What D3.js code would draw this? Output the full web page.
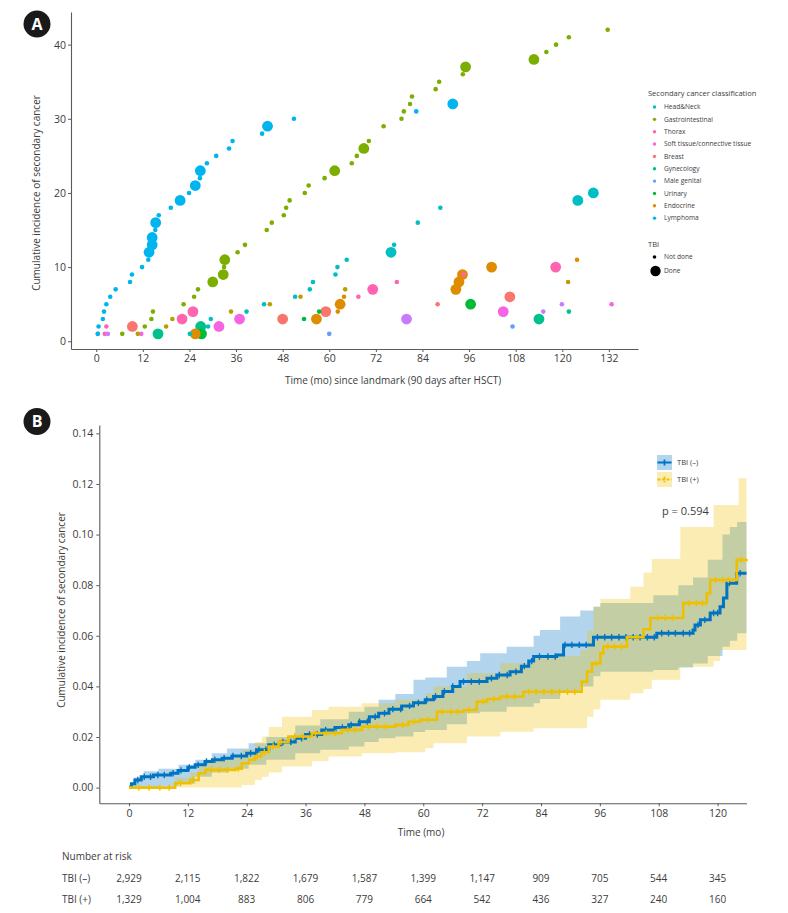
<!DOCTYPE html>
<html>
<head>
<meta charset="utf-8">
<script src="https://cdn.jsdelivr.net/npm/d3@7"></script>
<style>
  body { margin: 0; background: #ffffff; }
  svg { display: block; font-family: "Open Sans", "Noto Sans", sans-serif; }
</style>
</head>
<body>
<div id="chart"></div>
<script>
// ---------- Panel A data: [month, cumulative count, TBI done (1) / not done (0)] ----------
const categories = ["Head&Neck", "Gastrointestinal", "Thorax", "Soft tissue/connective tissue", "Breast",
    "Gynecology", "Male genital", "Urinary", "Endocrine", "Lymphoma", "Unlabelled A", "Unlabelled B"];
const categoryColors = ["#00BFC4", "#7CAE00", "#FF64B0", "#F564E3", "#F8766D",
    "#00C08B", "#619CFF", "#00BA38", "#DE8C00", "#00B4F0", "#B79F00", "#C77CFF"];
const legendCategories = categories.slice(0, 10);

const headNeck = [[24.1,1,0],[28.8,2,0],[29.5,3,0],[38.7,4,0],[43.2,5,0],[51.2,6,0],[55.0,7,0],[55.8,8,0],
    [61.6,9,0],[62.1,10,0],[64.5,11,0],[75.9,12,1],[76.7,13,0],[82.8,16,0],[88.6,18,0],[124.0,19,1],[128.0,20,1]];
const gastro = [[6.7,1,0],[12.5,2,0],[14.2,3,0],[14.6,4,0],[22.5,5,0],[25.2,6,0],[26.2,7,0],[30.0,8,1],[32.7,9,1],
    [32.9,10,0],[33.1,11,1],[36.4,12,0],[38.3,13,0],[43.9,15,0],[45.2,16,0],[48.3,17,0],[48.9,18,0],[49.8,19,0],
    [53.7,20,0],[54.7,21,0],[58.8,22,0],[61.4,23,1],[65.8,24,0],[67.1,25,0],[68.9,26,1],[70.2,27,0],[74.0,29,0],
    [78.6,30,0],[79.2,31,0],[80.8,32,0],[81.3,33,0],[87.4,34,0],[88.3,35,0],[94.4,36,0],[95.1,37,1],[112.7,38,1],
    [115.9,39,0],[118.4,40,0],[121.7,41,0],[131.7,42,0]];
const thorax = [[2.2,1,0],[2.6,2,0],[22.1,3,1],[24.9,4,1],[67.5,6,0],[71.2,7,1],[77.4,8,0],[94.6,9,0],[118.3,10,1]];
const softTissue = [[11.6,1,0],[31.6,2,1],[36.9,3,1],[104.8,4,1],[132.7,5,0]];
const breast = [[0.4,1,0],[9.3,2,1],[48.0,3,1],[59.1,4,1],[87.9,5,0],[106.5,6,1]];
const gynecology = [[15.9,1,1],[26.9,2,1],[114.0,3,1],[121.7,4,0]];
const maleGenital = [[60.0,1,0],[107.2,2,0]];
const urinary = [[27.1,1,1],[53.5,3,0],[57.4,4,0],[96.4,5,1]];
const endocrine = [[25.5,1,1],[56.7,3,1],[62.2,4,0],[62.8,5,1],[63.8,6,0],[92.6,7,1],[93.4,8,1],[94.3,9,1],
    [101.8,10,1],[123.8,11,0]];
const lymphoma = [[0.4,1,0],[0.6,2,0],[1.7,3,0],[2.0,4,0],[2.6,5,0],[3.6,6,0],[5.0,7,0],[8.7,8,0],[9.2,9,0],
    [11.8,10,0],[13.4,11,0],[13.6,12,1],[14.4,13,1],[14.4,14,1],[15.2,15,0],[15.3,16,1],[16.1,17,0],[19.2,18,0],
    [21.6,19,1],[23.9,20,0],[25.5,21,1],[26.7,22,0],[26.8,23,1],[28.5,24,0],[30.9,25,0],[34.2,26,0],[35.1,27,0],
    [42.7,28,0],[44.1,29,1],[50.9,30,0],[82.4,31,0],[91.8,32,1]];
const unlabelledA = [[10.7,1,0],[18.0,2,0],[19.6,3,0],[34.7,4,0],[44.7,5,0],[52.6,6,0],[64.1,7,0],[121.5,8,0]];
const unlabelledB = [[3.0,1,0],[79.9,3,1],[115.1,4,0],[119.9,5,0]];
const categoryEvents = [headNeck, gastro, thorax, softTissue, breast, gynecology, maleGenital, urinary,
    endocrine, lymphoma, unlabelledA, unlabelledB];
const xTicksA = [0, 12, 24, 36, 48, 60, 72, 84, 96, 108, 120, 132];
const yTicksA = [0, 10, 20, 30, 40];

// ---------- Panel B data ----------
const groups = ["TBI (–)", "TBI (+)"];
const groupColors = ["#0073C2", "#EFC000"];
// cumulative incidence steps [month, value]
const cifNeg = [[0,0],[0.5,0.0015],[1.2,0.003],[2.5,0.0043],[5,0.005],[8.5,0.0057],[10,0.0068],[12,0.008],
    [13.5,0.009],[15.5,0.0103],[17,0.011],[19,0.0116],[21,0.0125],[24,0.0136],[26,0.015],[28.5,0.0169],[31,0.018],
    [33.9,0.0195],[36,0.021],[39.3,0.0228],[42,0.0238],[44.8,0.0248],[47,0.026],[49,0.028],[50.9,0.0294],[53,0.031],
    [55.6,0.0323],[58,0.0335],[60.4,0.0347],[62.1,0.036],[64,0.038],[66,0.04],[67.5,0.0419],[73,0.0432],[75,0.0445],
    [77.7,0.0458],[80,0.048],[81.5,0.05],[82.5,0.0518],[87.2,0.0524],[88.6,0.0564],[94.7,0.0594],[107.6,0.061],
    [115,0.0623],[115.4,0.0643],[116.5,0.0663],[118.5,0.069],[120.5,0.0715],[121.2,0.0749],[121.9,0.0808],
    [123.9,0.0847],[125.9,0.0847]];
const cifPos = [[0,0],[9.4,0.0017],[12.5,0.003],[14.2,0.0057],[15.6,0.007],[21.7,0.0075],[23,0.0096],[24.5,0.011],
    [25.7,0.0123],[27,0.014],[28.5,0.0162],[30.5,0.018],[32.5,0.0202],[37.3,0.0215],[43.4,0.0228],[47.5,0.0241],
    [54.3,0.0248],[57,0.026],[59.4,0.0268],[62.8,0.03],[68.2,0.0307],[70.9,0.034],[73,0.035],[75.7,0.036],
    [80.4,0.0379],[92.3,0.0419],[93.4,0.0458],[94.4,0.0491],[96.1,0.0531],[96.7,0.0557],[101.5,0.0594],
    [104.9,0.0626],[106.3,0.067],[113,0.0729],[117.8,0.0768],[118.5,0.0821],[123.9,0.09],[125.9,0.0903]];
// confidence bands [month, lower, upper]
const bandNeg = [[0,0,0.001],[1,0,0.004],[3,0,0.0065],[6,0.0005,0.0075],[10.1,0.0015,0.009],[13.5,0.0043,0.011],
    [16.9,0.006,0.0136],[20,0.0075,0.0155],[24.4,0.009,0.0175],[28,0.011,0.02],[33.9,0.0136,0.0245],[39,0.015,0.027],
    [44.8,0.0162,0.03],[48,0.018,0.032],[50.9,0.0195,0.0347],[54.3,0.0202,0.037],[58,0.022,0.0426],
    [60.4,0.0228,0.0435],[64.8,0.025,0.0478],[68.9,0.0294,0.05],[71.6,0.03,0.0531],[77,0.032,0.0557],
    [82.5,0.0333,0.06],[83.8,0.035,0.0623],[87.9,0.038,0.0676],[92,0.04,0.07],[94.7,0.044,0.0715],
    [96.1,0.0458,0.073],[106.9,0.0465,0.076],[112,0.0475,0.08],[115,0.049,0.083],[118,0.052,0.09],
    [121,0.0557,0.1],[122.5,0.058,0.103],[124,0.061,0.105],[125.9,0.061,0.105]];
const bandPos = [[0,0,0.0005],[9.4,0,0.004],[12.5,0,0.006],[14.2,0,0.0095],[15.6,0,0.011],[21.7,0,0.012],
    [23,0.001,0.015],[25.7,0.003,0.018],[27.1,0.0043,0.0202],[28.5,0.006,0.024],[31.2,0.0083,0.028],
    [37.3,0.0105,0.0307],[40.7,0.0123,0.032],[47.5,0.0136,0.0333],[54.3,0.014,0.0347],[60.4,0.0156,0.0373],
    [62.1,0.0175,0.04],[68.9,0.0202,0.0452],[75.7,0.0221,0.0491],[82.5,0.0235,0.052],[92,0.0235,0.0544],
    [93.4,0.028,0.062],[94.7,0.031,0.0715],[96.1,0.0347,0.0745],[102.2,0.0373,0.0794],[104.9,0.039,0.085],
    [106.6,0.0426,0.0903],[112.4,0.0478,0.103],[119.2,0.05,0.1117],[120.5,0.0544,0.1117],[124.3,0.0544,0.1223],
    [125.9,0.0544,0.1223]];
// censoring times (months)
const censorNeg = [1.8,3.1,4.4,5.9,7.2,9.0,10.6,12.3,14.1,15.8,17.5,19.4,21.2,22.9,24.8,26.5,27.9,29.6,31.4,33.0,
    35.2,36.8,38.4,40.1,41.9,43.5,45.3,47.0,48.6,50.2,52.1,53.8,55.4,57.2,59.0,60.7,62.5,64.3,66.0,68.2,69.8,71.4,
    73.9,75.5,77.1,78.9,80.6,82.1,83.7,85.4,86.9,88.9,90.3,91.8,93.2,95.5,97.0,98.4,99.9,101.3,102.8,104.2,105.7,
    107.1,108.6,110.0,111.4,113.0,114.3,116.0,117.4,119.2,120.0,122.4,124.6];
const censorPos = [2.0,4.1,6.3,8.2,10.5,13.0,16.8,18.4,20.1,22.3,26.1,27.6,29.4,31.0,33.8,35.5,38.0,40.2,42.0,44.6,
    46.1,48.8,50.5,52.3,55.8,58.1,60.9,63.9,65.6,67.0,69.3,72.2,74.4,77.0,78.6,81.5,83.0,84.6,86.2,87.8,89.4,90.9,
    95.2,97.6,99.0,100.4,103.5,107.8,109.3,110.8,114.2,115.7,116.9,119.6,121.0,122.2,124.8];
const xTicksB = [0, 12, 24, 36, 48, 60, 72, 84, 96, 108, 120];
const yTicksB = [0, 0.02, 0.04, 0.06, 0.08, 0.10, 0.12, 0.14];
const riskTimes = [0, 12, 24, 36, 48, 60, 72, 84, 96, 108, 120];
const riskNeg = [2929, 2115, 1822, 1679, 1587, 1399, 1147, 909, 705, 544, 345];
const riskPos = [1329, 1004, 883, 806, 779, 664, 542, 436, 327, 240, 160];
const pValueText = "p = 0.594";

const axisGrey = "#5a5a5a";
const textGrey = "#3c3c3c";

// Function to draw the round panel badge
function drawBadge(svg, cx, cy, letter) {
    svg.append("circle").attr("cx", cx).attr("cy", cy).attr("r", 13.5).attr("fill", "#1a1a1a");
    svg.append("text")
        .attr("x", cx).attr("y", cy + 5.5)
        .attr("text-anchor", "middle")
        .style("font-size", "16px").style("font-weight", "bold")
        .style("fill", "#ffffff")
        .text(letter);
}

function styleAxis(g, fontSize) {
    g.select(".domain").attr("stroke", axisGrey).attr("stroke-width", 1.1);
    g.selectAll(".tick line").attr("stroke", axisGrey).attr("stroke-width", 1);
    g.selectAll(".tick text").style("fill", textGrey).style("font-size", fontSize).style("font-family", "Open Sans");
}

// Function to render panel A (bubble incidence plot)
function renderPanelA(svg) {
    const x = d3.scaleLinear().domain([-6.5, 139.5]).range([71, 638]);
    const y = d3.scaleLinear().domain([-1.04, 44.4]).range([349, 12]);

    drawBadge(svg, 37, 24, "A");

    svg.append("g")
        .attr("transform", "translate(71,0)")
        .call(d3.axisLeft(y).tickValues(yTicksA).tickSize(3).tickSizeOuter(0).tickPadding(2))
        .call(g => styleAxis(g, "10.5px"));

    svg.append("g")
        .attr("transform", "translate(0,349)")
        .call(d3.axisBottom(x).tickValues(xTicksA).tickSize(3).tickSizeOuter(0).tickPadding(3))
        .call(g => styleAxis(g, "10.5px"));

    svg.append("text")
        .attr("transform", "translate(40,193) rotate(-90)")
        .attr("text-anchor", "middle")
        .style("font-size", "10px").style("fill", textGrey)
        .text("Cumulative incidence of secondary cancer");

    svg.append("text")
        .attr("x", 285).attr("y", 384)
        .style("font-size", "10px").style("fill", textGrey)
        .text("Time (mo) since landmark (90 days after HSCT)");

    // points: big (TBI done) first, small on top
    const points = [];
    categoryEvents.forEach((events, i) => {
        events.forEach(e => points.push({ cat: i, month: e[0], count: e[1], done: e[2] }));
    });
    points.sort((a, b) => b.done - a.done);

    svg.append("g").selectAll("circle")
        .data(points)
        .enter()
        .append("circle")
        .attr("cx", d => x(d.month))
        .attr("cy", d => y(d.count))
        .attr("r", d => d.done ? 5.4 : 2.3)
        .attr("fill", d => categoryColors[d.cat]);

    // legend
    const lg = svg.append("g");
    lg.append("text").attr("x", 648).attr("y", 96)
        .style("font-size", "7.5px").style("fill", textGrey)
        .text("Secondary cancer classification");
    legendCategories.forEach((name, i) => {
        const ly = 107 + i * 12.35;
        lg.append("circle").attr("cx", 654.5).attr("cy", ly).attr("r", 1.7).attr("fill", categoryColors[i]);
        lg.append("text").attr("x", 664).attr("y", ly + 2.3)
            .style("font-size", "6.6px").style("fill", textGrey)
            .text(name);
    });
    lg.append("text").attr("x", 648).attr("y", 247)
        .style("font-size", "7.5px").style("fill", textGrey)
        .text("TBI");
    lg.append("circle").attr("cx", 654.5).attr("cy", 257).attr("r", 1.8).attr("fill", "#000");
    lg.append("text").attr("x", 664).attr("y", 259.3)
        .style("font-size", "6.6px").style("fill", textGrey).text("Not done");
    lg.append("circle").attr("cx", 655.5).attr("cy", 271).attr("r", 5.2).attr("fill", "#000");
    lg.append("text").attr("x", 664).attr("y", 273.3)
        .style("font-size", "6.6px").style("fill", textGrey).text("Done");
}

// Function to render panel B (cumulative incidence curves)
function renderPanelB(svg) {
    const x = d3.scaleLinear().domain([-6.05, 125.9]).range([99.3, 746.5]);
    const y = d3.scaleLinear().domain([-0.0062, 0.1433]).range([803.3, 425]);

    drawBadge(svg, 37, 421.5, "B");

    const bands = [bandNeg, bandPos];
    const curves = [cifNeg, cifPos];
    const censors = [censorNeg, censorPos];

    const area = d3.area()
        .x(d => x(d[0]))
        .y0(d => y(d[1]))
        .y1(d => y(d[2]))
        .curve(d3.curveStepAfter);

    bands.forEach((band, i) => {
        svg.append("path")
            .datum(band)
            .attr("fill", groupColors[i])
            .attr("fill-opacity", 0.3)
            .attr("d", area);
    });

    const line = d3.line()
        .x(d => x(d[0]))
        .y(d => y(d[1]))
        .curve(d3.curveStepAfter);

    const bisect = d3.bisector(d => d[0]).right;

    curves.forEach((curve, i) => {
        svg.append("path")
            .datum(curve)
            .attr("fill", "none")
            .attr("stroke", groupColors[i])
            .attr("stroke-width", i === 0 ? 3 : 2.6)
            .attr("d", line);

        const marks = censors[i].map(t => {
            const idx = Math.max(0, bisect(curve, t) - 1);
            return { t, v: curve[idx][1] };
        });
        svg.append("g").selectAll("path")
            .data(marks)
            .enter()
            .append("path")
            .attr("d", d => `M${x(d.t)},${y(d.v) - 3.2}V${y(d.v) + 3.2}M${x(d.t) - 2},${y(d.v)}H${x(d.t) + 2}`)
            .attr("stroke", groupColors[i])
            .attr("stroke-width", 1.4)
            .attr("fill", "none");
    });

    svg.append("g")
        .attr("transform", "translate(99.3,0)")
        .call(d3.axisLeft(y).tickValues(yTicksB).tickFormat(d3.format(".2f")).tickSize(3).tickSizeOuter(0).tickPadding(3))
        .call(g => styleAxis(g, "10.5px"));

    svg.append("g")
        .attr("transform", "translate(0,803.3)")
        .call(d3.axisBottom(x).tickValues(xTicksB).tickSize(3).tickSizeOuter(0).tickPadding(3))
        .call(g => styleAxis(g, "10.5px"));

    svg.append("text")
        .attr("transform", "translate(65,610) rotate(-90)")
        .attr("text-anchor", "middle")
        .style("font-size", "10px").style("fill", textGrey)
        .text("Cumulative incidence of secondary cancer");

    svg.append("text")
        .attr("x", 421).attr("y", 836)
        .attr("text-anchor", "middle")
        .style("font-size", "10px").style("fill", textGrey)
        .text("Time (mo)");

    // legend
    groups.forEach((name, i) => {
        const ly = 462.5 + i * 17;
        svg.append("rect").attr("x", 657).attr("y", ly - 7.5).attr("width", 15).attr("height", 15)
            .attr("fill", groupColors[i]).attr("fill-opacity", 0.3);
        svg.append("path")
            .attr("d", `M657.5,${ly}H671.5M664.5,${ly - 3}V${ly + 3}`)
            .attr("stroke", groupColors[i]).attr("stroke-width", 1.8)
            .attr("stroke-dasharray", i === 1 ? "3,1.5" : null)
            .attr("fill", "none");
        svg.append("text").attr("x", 677).attr("y", ly + 2.8)
            .style("font-size", "7.5px").style("fill", textGrey)
            .text(name);
    });

    svg.append("text")
        .attr("x", 662).attr("y", 515)
        .style("font-size", "11px").style("fill", textGrey)
        .text(pValueText);

    // number at risk table
    svg.append("text").attr("x", 62).attr("y", 860)
        .style("font-size", "10px").style("fill", textGrey)
        .text("Number at risk");
    const riskRows = [riskNeg, riskPos];
    riskRows.forEach((row, i) => {
        const ry = 882 + i * 21;
        svg.append("text").attr("x", 62).attr("y", ry)
            .style("font-size", "10px").style("fill", textGrey)
            .text(groups[i]);
        svg.append("g").selectAll("text")
            .data(row)
            .enter()
            .append("text")
            .attr("x", (d, j) => x(riskTimes[j]))
            .attr("y", ry)
            .attr("text-anchor", "middle")
            .style("font-size", "10px").style("fill", textGrey)
            .text(d => d3.format(",")(d));
    });
}

document.addEventListener("DOMContentLoaded", () => {
    const svg = d3.select("#chart")
        .append("svg")
        .attr("width", 788)
        .attr("height", 913)
        .style("background-color", "#ffffff");

    renderPanelA(svg);
    renderPanelB(svg);
});
</script>
</body>
</html>
